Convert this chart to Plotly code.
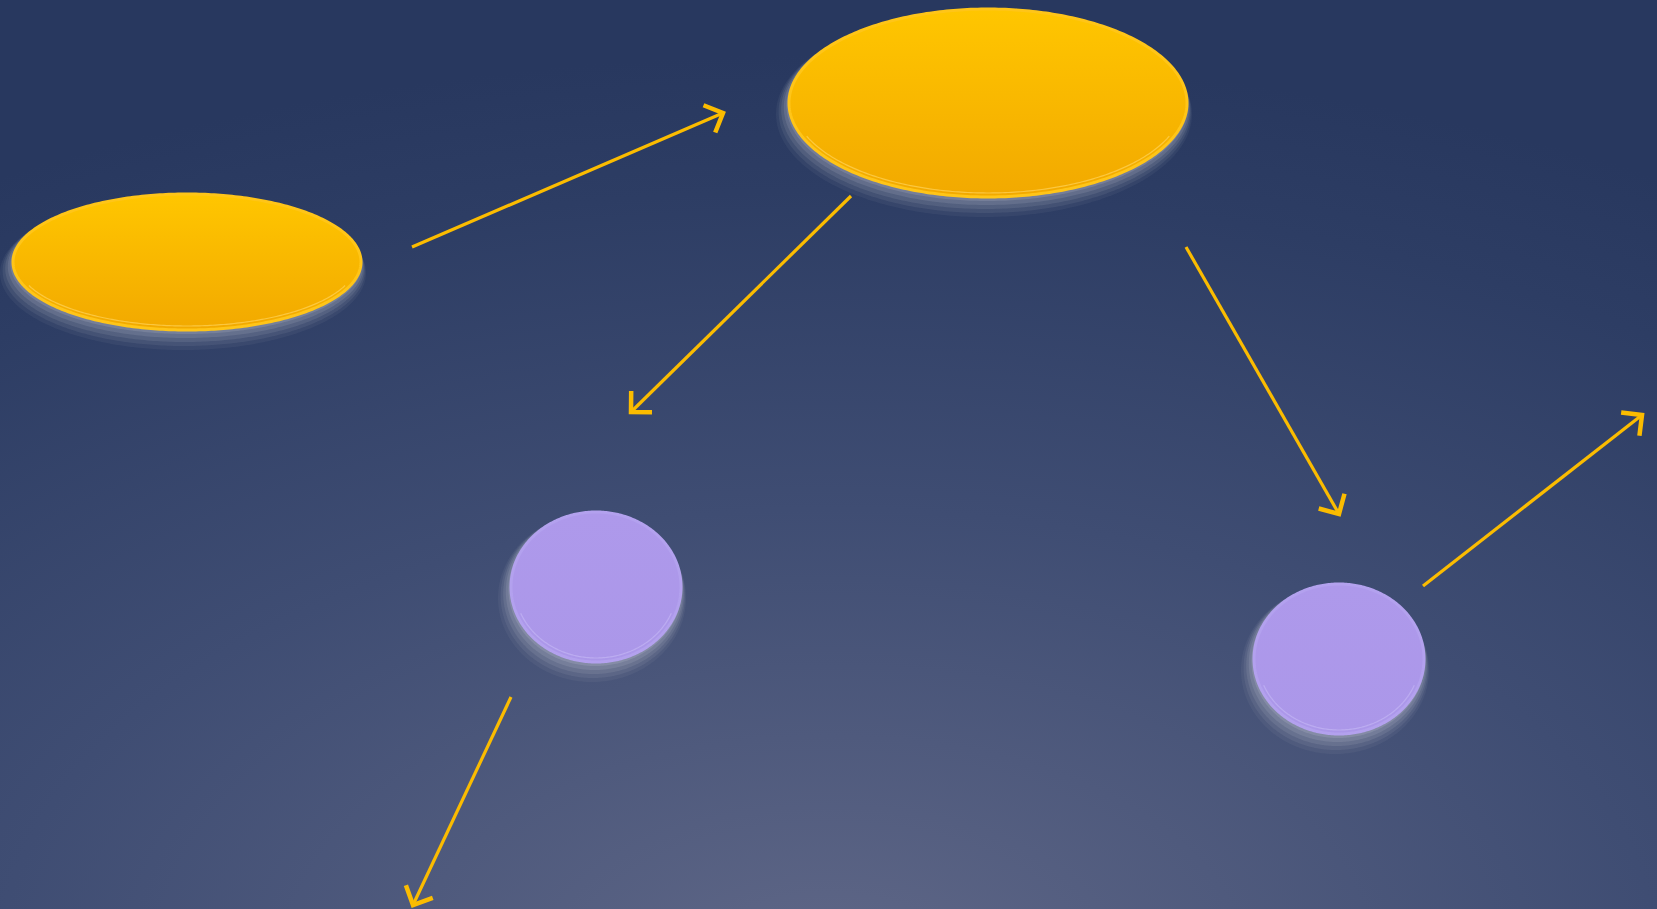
import base64
import numpy as np
import plotly.graph_objects as go

# ---- data (diagram in pixel coordinates, y down) ----
node_cx = [187, 988, 596, 1339]
node_cy = [262, 103, 587, 659]
node_rx = [174, 199, 85, 85]
node_ry = [68, 94, 75, 75]
node_kind = ["gold", "gold", "violet", "violet"]

arrow_x0 = [412, 851, 1186, 1423, 511]
arrow_y0 = [247, 196, 247, 586, 697]
arrow_x1 = [723, 631, 1339, 1642, 413]
arrow_y1 = [113, 412, 514, 415, 905]

W, H = 1657, 909
GOLD = "#fbbc00"

styles = {
    "gold": dict(top="#ffc600", bottom="#f2a900", rim="#ffc518", inner="#ffd35a"),
    "violet": dict(top="#ae99eb", bottom="#ab97e9", rim="#b3a1ee", inner="#c3b5f4"),
}

fig = go.Figure()
t = np.linspace(0, 2 * np.pi, 361)

# soft whitish glow, mostly below the shapes
for cx, cy, rx, ry in zip(node_cx, node_cy, node_rx, node_ry):
    for k, a in [(20, 0.05), (16, 0.07), (12, 0.09), (8, 0.11), (4, 0.13)]:
        fig.add_trace(go.Scatter(
            x=cx - k * 0.2 + (rx + k * 0.45) * np.cos(t), y=cy + k * 0.55 + (ry + k * 0.45) * np.sin(t),
            mode="lines", fill="toself", line=dict(width=0, simplify=False),
            fillcolor=f"rgba(240,240,245,{a})", hoverinfo="skip", showlegend=False))

for cx, cy, rx, ry, kind in zip(node_cx, node_cy, node_rx, node_ry, node_kind):
    s = styles[kind]
    fig.add_trace(go.Scatter(
        x=cx + rx * np.cos(t), y=cy + ry * np.sin(t), mode="lines", fill="toself",
        fillgradient=dict(type="vertical", colorscale=[[0, s["bottom"]], [1, s["top"]]]),
        line=dict(color=s["rim"], width=3, simplify=False), hoverinfo="skip", showlegend=False))
    tt = np.linspace(0.12 * np.pi, 0.88 * np.pi, 150)
    fig.add_trace(go.Scatter(
        x=cx + (rx - 4) * np.cos(tt), y=cy + (ry - 4) * np.sin(tt), mode="lines",
        line=dict(color=s["inner"], width=1.2, simplify=False), opacity=0.7,
        hoverinfo="skip", showlegend=False))

# arrows: shaft + open chevron head (arms at +-45 deg, 20 px)
L = 21.0
for x0, y0, x1, y1 in zip(arrow_x0, arrow_y0, arrow_x1, arrow_y1):
    fig.add_trace(go.Scatter(
        x=[x0, x1], y=[y0, y1], mode="lines", line=dict(color=GOLD, width=3.2),
        hoverinfo="skip", showlegend=False))
    d = np.array([x0 - x1, y0 - y1], dtype=float)
    d /= np.hypot(*d)
    arms = []
    for ang in (np.pi / 4, -np.pi / 4):
        c, s_ = np.cos(ang), np.sin(ang)
        arms.append((x1 + L * (c * d[0] - s_ * d[1]), y1 + L * (s_ * d[0] + c * d[1])))
    fig.add_trace(go.Scatter(
        x=[arms[0][0], x1, arms[1][0]], y=[arms[0][1], y1, arms[1][1]],
        mode="lines", line=dict(color=GOLD, width=4.5),
        hoverinfo="skip", showlegend=False))

svg = (
    f"<svg xmlns='http://www.w3.org/2000/svg' width='{W}' height='{H}' viewBox='0 0 {W} {H}' preserveAspectRatio='none'>"
    "<defs><radialGradient id='g' cx='0.5' cy='1.06' r='1.0' gradientUnits='objectBoundingBox'>"
    "<stop offset='0' stop-color='#5f6787'/><stop offset='0.5' stop-color='#3f4d73'/>"
    "<stop offset='0.85' stop-color='#2d3d64'/><stop offset='1' stop-color='#28385f'/>"
    "</radialGradient></defs>"
    f"<rect x='0' y='0' width='{W}' height='{H}' fill='url(#g)'/></svg>"
)
src = "data:image/svg+xml;base64," + base64.b64encode(svg.encode()).decode()

fig.update_layout(
    width=W, height=H, margin=dict(l=0, r=0, t=0, b=0),
    paper_bgcolor="#2c3a5e", plot_bgcolor="rgba(0,0,0,0)",
    xaxis=dict(range=[0, W], visible=False, fixedrange=True),
    yaxis=dict(range=[H, 0], visible=False, fixedrange=True),
    images=[dict(source=src, xref="paper", yref="paper", x=0, y=1, sizex=1, sizey=1,
                 sizing="stretch", layer="below", xanchor="left", yanchor="top")],
    showlegend=False,
)
fig.write_html(
    "out.html", config={"displayModeBar": False},
    post_script="document.body.style.margin='0';document.body.style.overflow='hidden';",
)
